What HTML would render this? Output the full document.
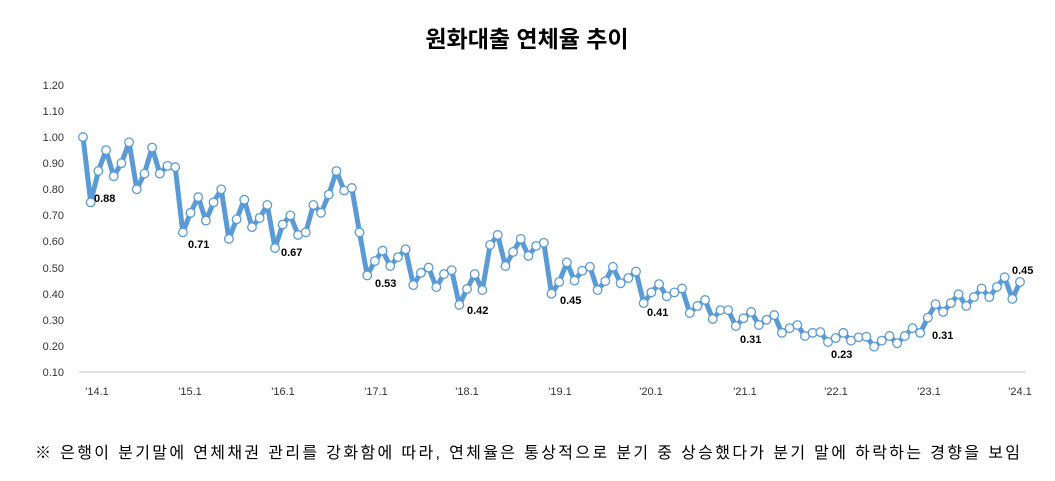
<!DOCTYPE html>
<html><head><meta charset="utf-8"><style>
body{margin:0;background:#fff;width:1055px;height:476px;overflow:hidden}
svg text{font-family:"Liberation Sans","Noto Sans CJK KR",sans-serif}
</style></head><body>
<svg id="s" width="1055" height="476" xmlns="http://www.w3.org/2000/svg">
<text x="527" y="47" text-anchor="middle" font-size="23" font-weight="bold" fill="#000">원화대출 연체율 추이</text>
<g font-size="11" fill="#333" text-anchor="end">
<text x="64" y="89">1.20</text><text x="64" y="115">1.10</text><text x="64" y="141">1.00</text><text x="64" y="167">0.90</text><text x="64" y="193">0.80</text><text x="64" y="219">0.70</text><text x="64" y="245">0.60</text><text x="64" y="272">0.50</text><text x="64" y="298">0.40</text><text x="64" y="324">0.30</text><text x="64" y="350">0.20</text><text x="64" y="376">0.10</text>
</g>
<line x1="79" y1="372" x2="1026" y2="372" stroke="#d9d9d9" stroke-width="1.5"/>
<g font-size="11" fill="#333" text-anchor="middle">
<text x="97" y="395">'14.1</text><text x="190" y="395">'15.1</text><text x="283" y="395">'16.1</text><text x="376" y="395">'17.1</text><text x="467" y="395">'18.1</text><text x="560" y="395">'19.1</text><text x="651" y="395">'20.1</text><text x="745" y="395">'21.1</text><text x="836" y="395">'22.1</text><text x="929" y="395">'23.1</text><text x="1020" y="395">'24.1</text>
</g>
<g id="series"></g>
<g font-size="11" font-weight="bold" fill="#000">
<text x="94" y="202">0.88</text><text x="188" y="248">0.71</text><text x="281" y="256">0.67</text><text x="375" y="287">0.53</text><text x="467" y="314">0.42</text><text x="560" y="304">0.45</text><text x="647" y="316">0.41</text><text x="740" y="343">0.31</text><text x="831" y="358">0.23</text><text x="932" y="339">0.31</text><text x="1012" y="274">0.45</text>
</g>
<text x="35" y="458" font-size="16" fill="#000" textLength="985" lengthAdjust="spacing">※ 은행이 분기말에 연체채권 관리를 강화함에 따라, 연체율은 통상적으로 분기 중 상승했다가 분기 말에 하락하는 경향을 보임</text>
</svg>
<script>
var v=[1.00,0.75,0.87,0.95,0.85,0.90,0.98,0.80,0.86,0.96,0.86,0.89,
0.885,0.635,0.71,0.77,0.68,0.75,0.80,0.61,0.685,0.76,0.655,0.69,
0.74,0.575,0.665,0.70,0.625,0.635,0.74,0.71,0.78,0.87,0.795,0.805,
0.635,0.47,
0.525,0.565,0.506,0.54,0.57,0.433,0.48,0.50,0.425,0.475,0.49,0.357,0.418,0.475,0.414,0.587,0.625,0.506,0.56,0.61,0.545,0.583,0.595,0.40,0.445,0.52,0.45,0.488,0.503,0.414,0.448,0.503,0.44,0.46,0.485,0.364,0.405,0.437,0.39,0.405,0.42,0.326,0.353,0.376,
0.303,0.337,0.337,0.276,0.306,0.33,0.28,0.30,0.318,0.25,0.268,0.28,0.238,0.25,0.253,0.215,0.23,0.25,0.22,0.233,0.235,0.197,0.22,0.238,0.21,0.238,0.268,0.25,0.308,0.36,0.33,0.364,0.398,0.353,0.387,0.42,0.387,0.426,0.463,0.38,0.445];
var n=v.length,x0=83,x1=1020,pts=[];
for(var i=0;i<n;i++){pts.push([x0+(x1-x0)*i/(n-1),372-(v[i]-0.1)*261]);}
var ns="http://www.w3.org/2000/svg",g=document.getElementById("series");
var pl=document.createElementNS(ns,"polyline");
pl.setAttribute("points",pts.map(function(p){return p[0].toFixed(1)+","+p[1].toFixed(1)}).join(" "));
pl.setAttribute("fill","none");pl.setAttribute("stroke","#5b9bd5");pl.setAttribute("stroke-width","5");pl.setAttribute("stroke-linejoin","round");
g.appendChild(pl);
pts.forEach(function(p){var c=document.createElementNS(ns,"circle");c.setAttribute("cx",p[0]);c.setAttribute("cy",p[1]);c.setAttribute("r","4.3");c.setAttribute("fill","#fff");c.setAttribute("stroke","#5b9bd5");c.setAttribute("stroke-width","1.3");g.appendChild(c);});
</script>
</body></html>
